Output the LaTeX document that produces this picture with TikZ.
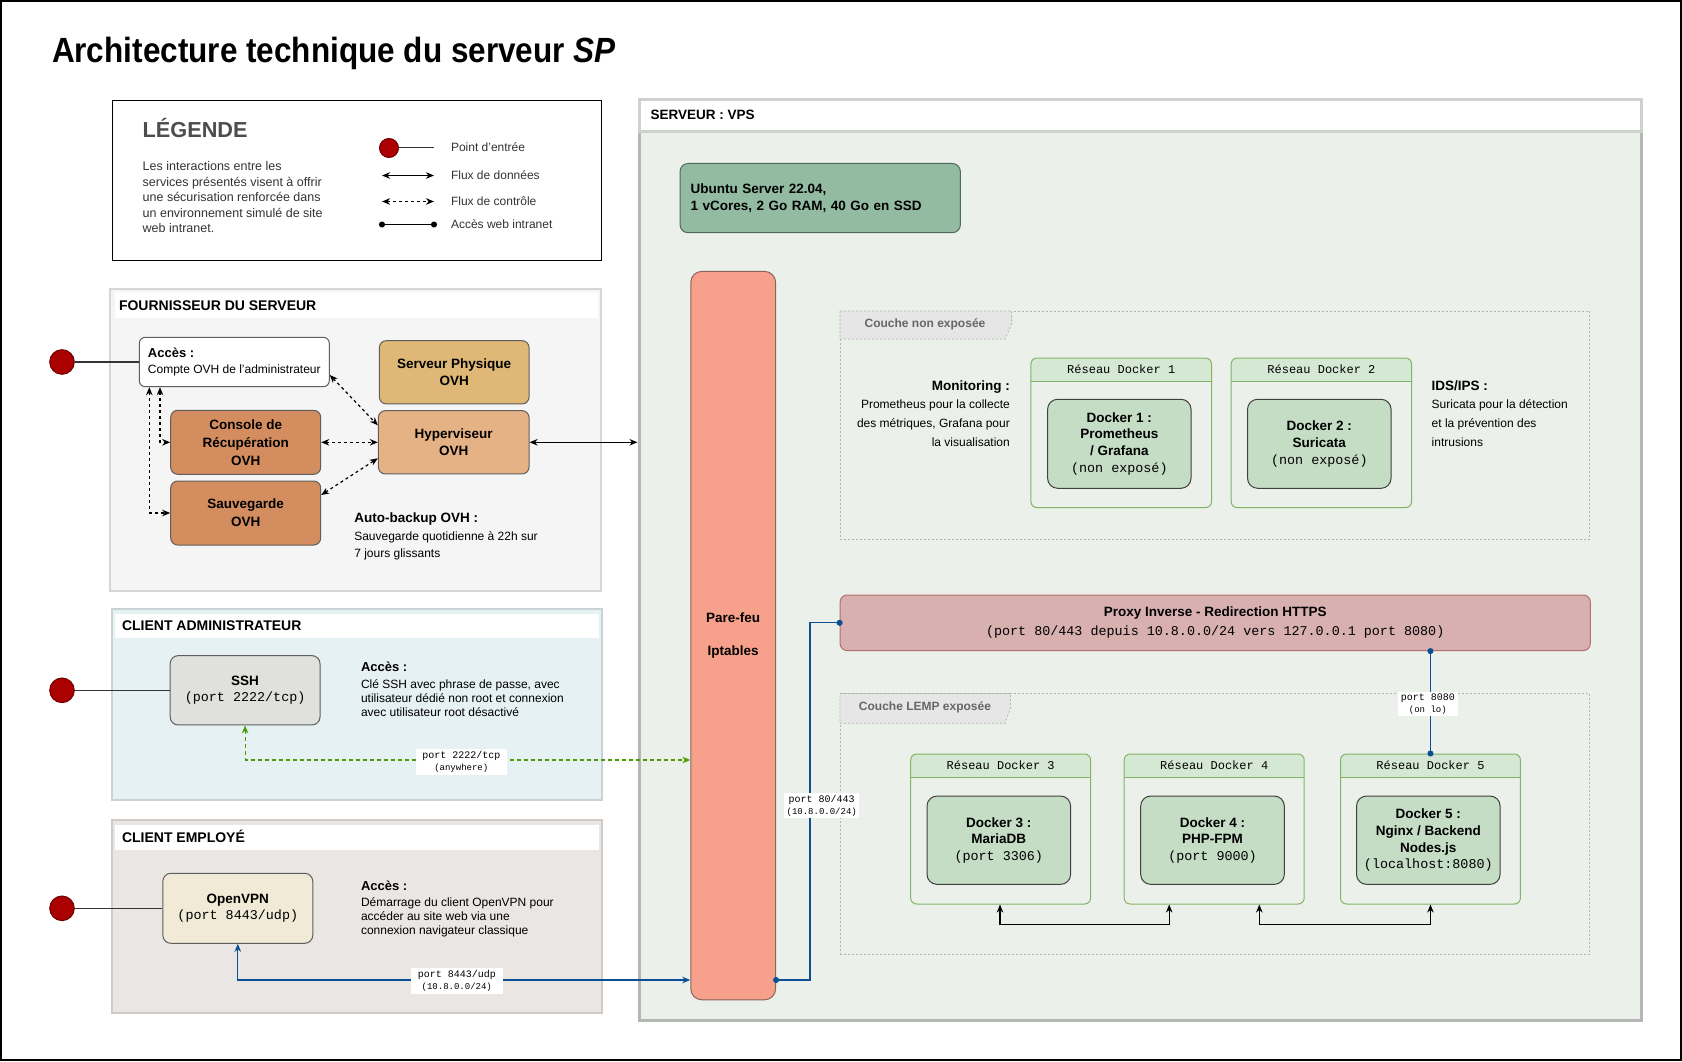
\documentclass[tikz,border=0pt]{standalone}
\usepackage{fontspec}
\setmainfont{Liberation Sans}
\setmonofont{Liberation Mono}
\newfontfamily\titlefont[FakeStretch=0.9]{Liberation Sans}
\usetikzlibrary{arrows.meta,calc}
\newcommand\fsz[2]{\fontsize{#1}{#2}\selectfont}
\newcommand\mtt[1]{{\mdseries\ttfamily\fsz{13.4}{16.7}#1}}
\definecolor{cdark}{HTML}{333333}
\definecolor{cgray}{HTML}{4D4D4D}
\definecolor{entryred}{HTML}{AA0000}
\definecolor{entrybd}{HTML}{6F0000}
\definecolor{fourbg}{HTML}{F5F5F5}
\definecolor{fourbd}{HTML}{D6D6D6}
\definecolor{adminbg}{HTML}{E6F1F4}
\definecolor{admbd}{HTML}{C9D2D4}
\definecolor{empbg}{HTML}{E9E6E3}
\definecolor{empbd}{HTML}{CFCBC8}
\definecolor{vpsbg}{HTML}{ECF0EB}
\definecolor{vpsbd}{HTML}{B5B7B5}
\definecolor{vpshd}{HTML}{CDD2CC}
\definecolor{goldc}{HTML}{DFB776}
\definecolor{peach}{HTML}{E5B285}
\definecolor{rust}{HTML}{D38D5F}
\definecolor{boxbd}{HTML}{5E5E5E}
\definecolor{sshfill}{HTML}{E0E1DC}
\definecolor{vpnfill}{HTML}{F0EAD6}
\definecolor{ubfill}{HTML}{93BBA2}
\definecolor{ubbd}{HTML}{4F6B5A}
\definecolor{pffill}{HTML}{F7A08C}
\definecolor{pfbd}{HTML}{8A6458}
\definecolor{pxfill}{HTML}{D8B0B0}
\definecolor{pxbd}{HTML}{B07070}
\definecolor{dkfill}{HTML}{C5DCC5}
\definecolor{dkbd}{HTML}{404040}
\definecolor{resbd}{HTML}{82B366}
\definecolor{reshd}{HTML}{D5E8D4}
\definecolor{tabfill}{HTML}{E6E6E6}
\definecolor{tabtext}{HTML}{666666}
\definecolor{couchebd}{HTML}{B3B3B3}
\definecolor{arrgreen}{HTML}{4D9900}
\definecolor{arrblue}{HTML}{0B4F94}
\tikzset{
  txt/.style={inner sep=0pt, outer sep=0pt},
  rbox/.style={draw=boxbd, line width=1pt, rounded corners=7pt, align=center, inner sep=0pt, font=\bfseries\fsz{13.5}{17.7}},
  cont/.style={line width=2pt, inner sep=0pt},
  hdrbar/.style={fill=white, inner sep=0pt},
  hdrtext/.style={txt, anchor=base west, font=\bfseries\fsz{14}{16}},
  entry/.style={circle, fill=entryred, draw=entrybd, line width=1pt, minimum size=24.6pt, inner sep=0pt},
  dock/.style={rbox, fill=dkfill, draw=dkbd, rounded corners=10pt, font=\bfseries\fsz{13.5}{16.7}},
  reseau/.style={draw=resbd, line width=1pt, rounded corners=6pt, inner sep=0pt},
  couche/.style={draw=couchebd, line width=0.8pt, dash pattern=on 2pt off 2pt, inner sep=0pt},
  tab/.style={fill=tabfill, draw=couchebd, line width=0.8pt, dash pattern=on 2pt off 2pt},
  tabtxt/.style={txt, anchor=base, text=tabtext, font=\bfseries\fsz{12}{14}},
  portlab/.style={fill=white, inner sep=0pt, align=center, font=\ttfamily\fsz{10}{12.5}},
  conn/.style={line width=1.2pt},
  ctrl/.style={conn, dash pattern=on 3pt off 3pt, <->},
  desc/.style={txt, anchor=base west, align=left, font=\fsz{12}{14.2}},
  legi/.style={txt, anchor=base west, text=cdark, font=\fsz{12}{14}},
  dotted ends/.style={{Circle[length=6pt]}-{Circle[length=6pt]}, shorten <=-3pt, shorten >=-3pt}
}
\newcommand\reseaubox[6]{%
  \begin{scope}
    \clip[rounded corners=6pt] (#2,#3) rectangle (#4,#5);
    \fill[reshd] (#2,#3) rectangle (#4,#3+23);
  \end{scope}
  \draw[resbd, line width=1pt] (#2,#3+23) -- (#4,#3+23);
  \node[reseau, minimum width={#4-#2}, minimum height={#5-#3}] (#1) at ({(#2+#4)/2},{(#3+#5)/2}) {};
  \node[txt, font=\ttfamily\fsz{12}{14}] (#1t) at ({(#2+#4)/2},#3+11.5) {#6};
}
\begin{document}
\begin{tikzpicture}[x=1pt,y=-1pt, >={Stealth[length=8pt,width=6.5pt,inset=2.5pt]}]
\useasboundingbox (0,0) rectangle (1682,1062);
\fill[white] (0,0) rectangle (1682,1062);
\draw[line width=2pt] (1,1) rectangle (1680.5,1059.5);

% title
\node[txt, anchor=base west, font=\titlefont\bfseries\fsz{35}{40}] (title) at (52,63) {Architecture technique du serveur \textit{SP}};

% legend
\node[draw=black, line width=1pt, minimum width=489, minimum height=159, inner sep=0pt] (legend) at (356.5,180.5) {};
\node[txt, anchor=base west, text=cgray, font=\bfseries\fsz{21.7}{26}] (legt) at (142.7,137.3) {LÉGENDE};
\node[txt, anchor=base west, align=left, text=cdark, font=\fsz{12.5}{15.4}] (legd) at (142.7,232.5) {Les interactions entre les\\services présentés visent à offrir\\une sécurisation renforcée dans\\un environnement simulé de site\\web intranet.};
\node[entry, minimum size=19pt] (lc) at (389,148) {};
\coordinate (lce) at (434,148);
\draw[cdark, line width=1pt] (lc) -- (lce);
\coordinate (l2a) at (382,175.5); \coordinate (l2b) at (434,175.5);
\draw[line width=1pt, <->] (l2a) -- (l2b);
\coordinate (l3a) at (382,201.5); \coordinate (l3b) at (434,201.5);
\draw[line width=1pt, dash pattern=on 3pt off 3pt, <->] (l3a) -- (l3b);
\coordinate (l4a) at (382,224.5); \coordinate (l4b) at (434,224.5);
\draw[line width=1pt, dotted ends] (l4a) -- (l4b);
\node[legi] (li1) at (451,151.7) {Point d'entrée};
\node[legi] (li2) at (451,179.2) {Flux de données};
\node[legi] (li3) at (451,205) {Flux de contrôle};
\node[legi] (li4) at (451,228.3) {Accès web intranet};

% containers left
\node[cont, fill=fourbg, draw=fourbd, minimum width=491, minimum height=302] (fourn) at (355.5,440) {};
\node[hdrbar, minimum width=483, minimum height=26] (fournh) at (356,305) {};
\node[hdrtext] (fournt) at (119,310) {FOURNISSEUR DU SERVEUR};

\node[cont, fill=adminbg, draw=admbd, minimum width=490.4, minimum height=191.5] (admin) at (356.8,704.3) {};
\node[hdrbar, minimum width=484, minimum height=24.5] (adminh) at (357,625.8) {};
\node[hdrtext] (admint) at (122,630.5) {CLIENT ADMINISTRATEUR};

\node[cont, fill=empbg, draw=empbd, minimum width=489.6, minimum height=193.3] (emp) at (356.8,916.7) {};
\node[hdrbar, minimum width=484, minimum height=25] (emph) at (357,837.5) {};
\node[hdrtext] (empt) at (122,842) {CLIENT EMPLOYÉ};

% VPS container
\node[fill=vpsbg, draw=vpsbd, line width=3pt, minimum width=1002, minimum height=920, inner sep=0pt] (vps) at (1140,560) {};
\node[fill=white, draw=vpshd, line width=3pt, minimum width=1002, minimum height=32, inner sep=0pt] (vpsh) at (1140,116) {};
\node[hdrtext, font=\bfseries\fsz{13.5}{16}] (vpst) at (650.7,120) {SERVEUR : VPS};

% fournisseur boxes
\node[rbox, fill=white, minimum width=190, minimum height=49.4, font=\fsz{12}{15.6}, align=left, rounded corners=6pt] (acces) at (234.3,362) {{\bfseries\fsz{13}{15.6}Accès :}\\Compte OVH de l'administrateur};
\node[rbox, fill=goldc, minimum width=149.7, minimum height=63.3] (phys) at (454.2,372.3) {Serveur Physique\\OVH};
\node[rbox, fill=peach, minimum width=150.7, minimum height=63.3] (hyper) at (453.7,442.3) {Hyperviseur\\OVH};
\node[rbox, fill=rust, minimum width=150, minimum height=64, font=\bfseries\fsz{13.5}{18}] (console) at (245.7,442.3) {Console de\\Récupération\\OVH};
\node[rbox, fill=rust, minimum width=150, minimum height=64] (sauv) at (245.7,513) {Sauvegarde\\OVH};
\node[txt, anchor=base west, font=\bfseries\fsz{13.5}{16}] (abh) at (354.3,522.3) {Auto-backup OVH :};
\node[desc, font=\fsz{12}{17.7}] (abt) at (354.3,557.7) {Sauvegarde quotidienne à 22h sur\\7 jours glissants};

\coordinate (ax1) at (149.3,0);
\coordinate (ax2) at (160,0);
\draw[ctrl] (acces.south -| ax1) |- (sauv.west);
\draw[ctrl] (acces.south -| ax2) |- (console.west);
\draw[ctrl] ($(acces.east)+(0,13)$) -- ($(hyper.west)+(0,-17)$);
\draw[ctrl] (console.east) -- (hyper.west);
\draw[ctrl] ($(sauv.east)+(0,-18)$) -- ($(hyper.west)+(0,16)$);
\draw[conn, <->] (hyper.east) -- (hyper.east -| vps.west);

% entry points
\node[entry] (e1) at (62,362) {};
\draw[conn, cdark] (e1) -- (acces.west);

% admin
\node[rbox, fill=sshfill, minimum width=149.8, minimum height=69.3, rounded corners=8pt, font=\bfseries\fsz{13.5}{16.7}] (ssh) at (245.1,690.3) {SSH\\\mtt{(port 2222/tcp)}};
\node[txt, anchor=base west, font=\bfseries\fsz{13}{16}] (admah) at (361,671.7) {Accès :};
\node[desc] (adma) at (361,716.7) {Clé SSH avec phrase de passe, avec\\utilisateur dédié non root et connexion\\avec utilisateur root désactivé};
\node[entry] (e2) at (62,690.3) {};
\draw[conn, cdark] (e2) -- (ssh.west);

% employe
\node[rbox, fill=vpnfill, minimum width=149.9, minimum height=70, rounded corners=8pt, font=\bfseries\fsz{13.5}{16.7}] (vpn) at (237.8,908.3) {OpenVPN\\\mtt{(port 8443/udp)}};
\node[txt, anchor=base west, font=\bfseries\fsz{13}{16}] (empah) at (361,890) {Accès :};
\node[desc] (empa) at (361,934.9) {Démarrage du client OpenVPN pour\\accéder au site web via une\\connexion navigateur classique};
\node[entry] (e3) at (62,908.3) {};
\draw[conn, cdark] (e3) -- (vpn.west);

% VPS contents
\node[rbox, fill=ubfill, draw=ubbd, minimum width=280.3, minimum height=69.2, text width=259pt, align=left, rounded corners=8pt, font=\bfseries\fsz{13.5}{16.7}] (ubuntu) at (820.2,198.1) {Ubuntu Server 22.04,\\1 vCores, 2 Go RAM, 40 Go en SSD};
\node[rbox, fill=pffill, draw=pfbd, minimum width=84.8, minimum height=728.4, rounded corners=11pt, font=\bfseries\fsz{13.5}{33.5}] (pf) at (733.2,635.6) {Pare-feu\\Iptables};

% couche non exposee
\node[couche, minimum width=749.8, minimum height=228.6] (c1) at (1214.9,425.3) {};
\filldraw[tab] (840,311) -- (1011.6,311) -- (1011.6,324) -- (1005,339) -- (840,339) -- cycle;
\node[tabtxt] (c1t) at (925,327.3) {Couche non exposée};
\node[txt, anchor=base east, font=\bfseries\fsz{13.5}{16}] (monh) at (1009.8,390) {Monitoring :};
\node[txt, anchor=base east, align=right, font=\fsz{12}{19}] (mon) at (1009.8,446.3) {Prometheus pour la collecte\\des métriques, Grafana pour\\la visualisation};
\node[txt, anchor=base west, font=\bfseries\fsz{13.5}{16}] (idsh) at (1431.7,390) {IDS/IPS :};
\node[txt, anchor=base west, align=left, font=\fsz{12}{19}] (ids) at (1431.7,446.3) {Suricata pour la détection\\et la prévention des\\intrusions};
\reseaubox{rd1}{1030.9}{358}{1211.5}{507.6}{Réseau Docker 1}
\reseaubox{rd2}{1231.2}{358}{1411.6}{507.6}{Réseau Docker 2}
\node[dock, minimum width=143.4, minimum height=89] (d1) at (1119.3,443.8) {Docker 1 :\\Prometheus\\/ Grafana\\\mtt{(non exposé)}};
\node[dock, minimum width=143.5, minimum height=89] (d2) at (1319.3,443.8) {Docker 2 :\\Suricata\\\mtt{(non exposé)}};

% proxy
\node[rbox, fill=pxfill, draw=pxbd, minimum width=750.2, minimum height=55.6, rounded corners=7pt, font=\bfseries\fsz{13.5}{18.7}] (proxy) at (1215.2,622.8) {Proxy Inverse - Redirection HTTPS\\\mtt{(port 80/443 depuis 10.8.0.0/24 vers 127.0.0.1 port 8080)}};

% couche LEMP
\node[couche, minimum width=749.8, minimum height=260.5] (c2) at (1214.9,823.75) {};
\filldraw[tab] (840,693.5) -- (1010.4,693.5) -- (1010.4,708) -- (1005,723.3) -- (840,723.3) -- cycle;
\node[tabtxt] (c2t) at (925,710.7) {Couche LEMP exposée};
\reseaubox{rd3}{910.7}{754}{1090.6}{904}{Réseau Docker 3}
\reseaubox{rd4}{1124.2}{754}{1304.2}{904}{Réseau Docker 4}
\reseaubox{rd5}{1340.5}{754}{1520.4}{904}{Réseau Docker 5}
\node[dock, minimum width=143.6, minimum height=88.3] (d3) at (998.8,840.2) {Docker 3 :\\MariaDB\\\mtt{(port 3306)}};
\node[dock, minimum width=143.6, minimum height=88.3] (d4) at (1212.5,840.2) {Docker 4 :\\PHP-FPM\\\mtt{(port 9000)}};
\node[dock, minimum width=143.6, minimum height=88.3] (d5) at (1428.3,840.2) {Docker 5 :\\Nginx / Backend\\Nodes.js\\\mtt{(localhost:8080)}};

\coordinate (bx1) at (1000,0);
\coordinate (bx2) at (1169.2,0);
\coordinate (bx3) at (1259.3,0);
\draw[conn, <->] (rd3.south -| bx1) -- ++(0,20.3) -| (rd4.south -| bx2);
\draw[conn, <->] (rd4.south -| bx3) -- ++(0,20.3) -| (rd5.south);

% flows to firewall
\coordinate (gy) at (0,760);
\coordinate (by) at (0,980);
\draw[conn, arrgreen, dash pattern=on 4pt off 3pt, <->] (ssh.south) |- (pf.west |- gy);
\node[portlab, minimum width=91.5, minimum height=26] (lab1) at (461.3,762) {port 2222/tcp\\{\fsz{9}{12.5}(anywhere)}};
\draw[conn, arrblue, <->] (vpn.south) |- (pf.west |- by);
\node[portlab, minimum width=91.5, minimum height=26] (lab2) at (456.8,981) {port 8443/udp\\{\fsz{9}{12.5}(10.8.0.0/24)}};
\draw[conn, arrblue, dotted ends] (pf.east |- by) -| ($(proxy.west)+(-29.6,0)$) -- (proxy.west);
\node[portlab, minimum width=74.6, minimum height=25] (lab3) at (821.7,805.8) {port 80/443\\{\fsz{9}{12.5}(10.8.0.0/24)}};
\draw[conn, arrblue, dotted ends] (proxy.south -| rd5.north) -- (rd5.north);
\node[portlab, minimum width=59.6, minimum height=24.3] (lab4) at (1427.8,704) {port 8080\\{\fsz{9}{12.5}(on lo)}};
\end{tikzpicture}
\end{document}
